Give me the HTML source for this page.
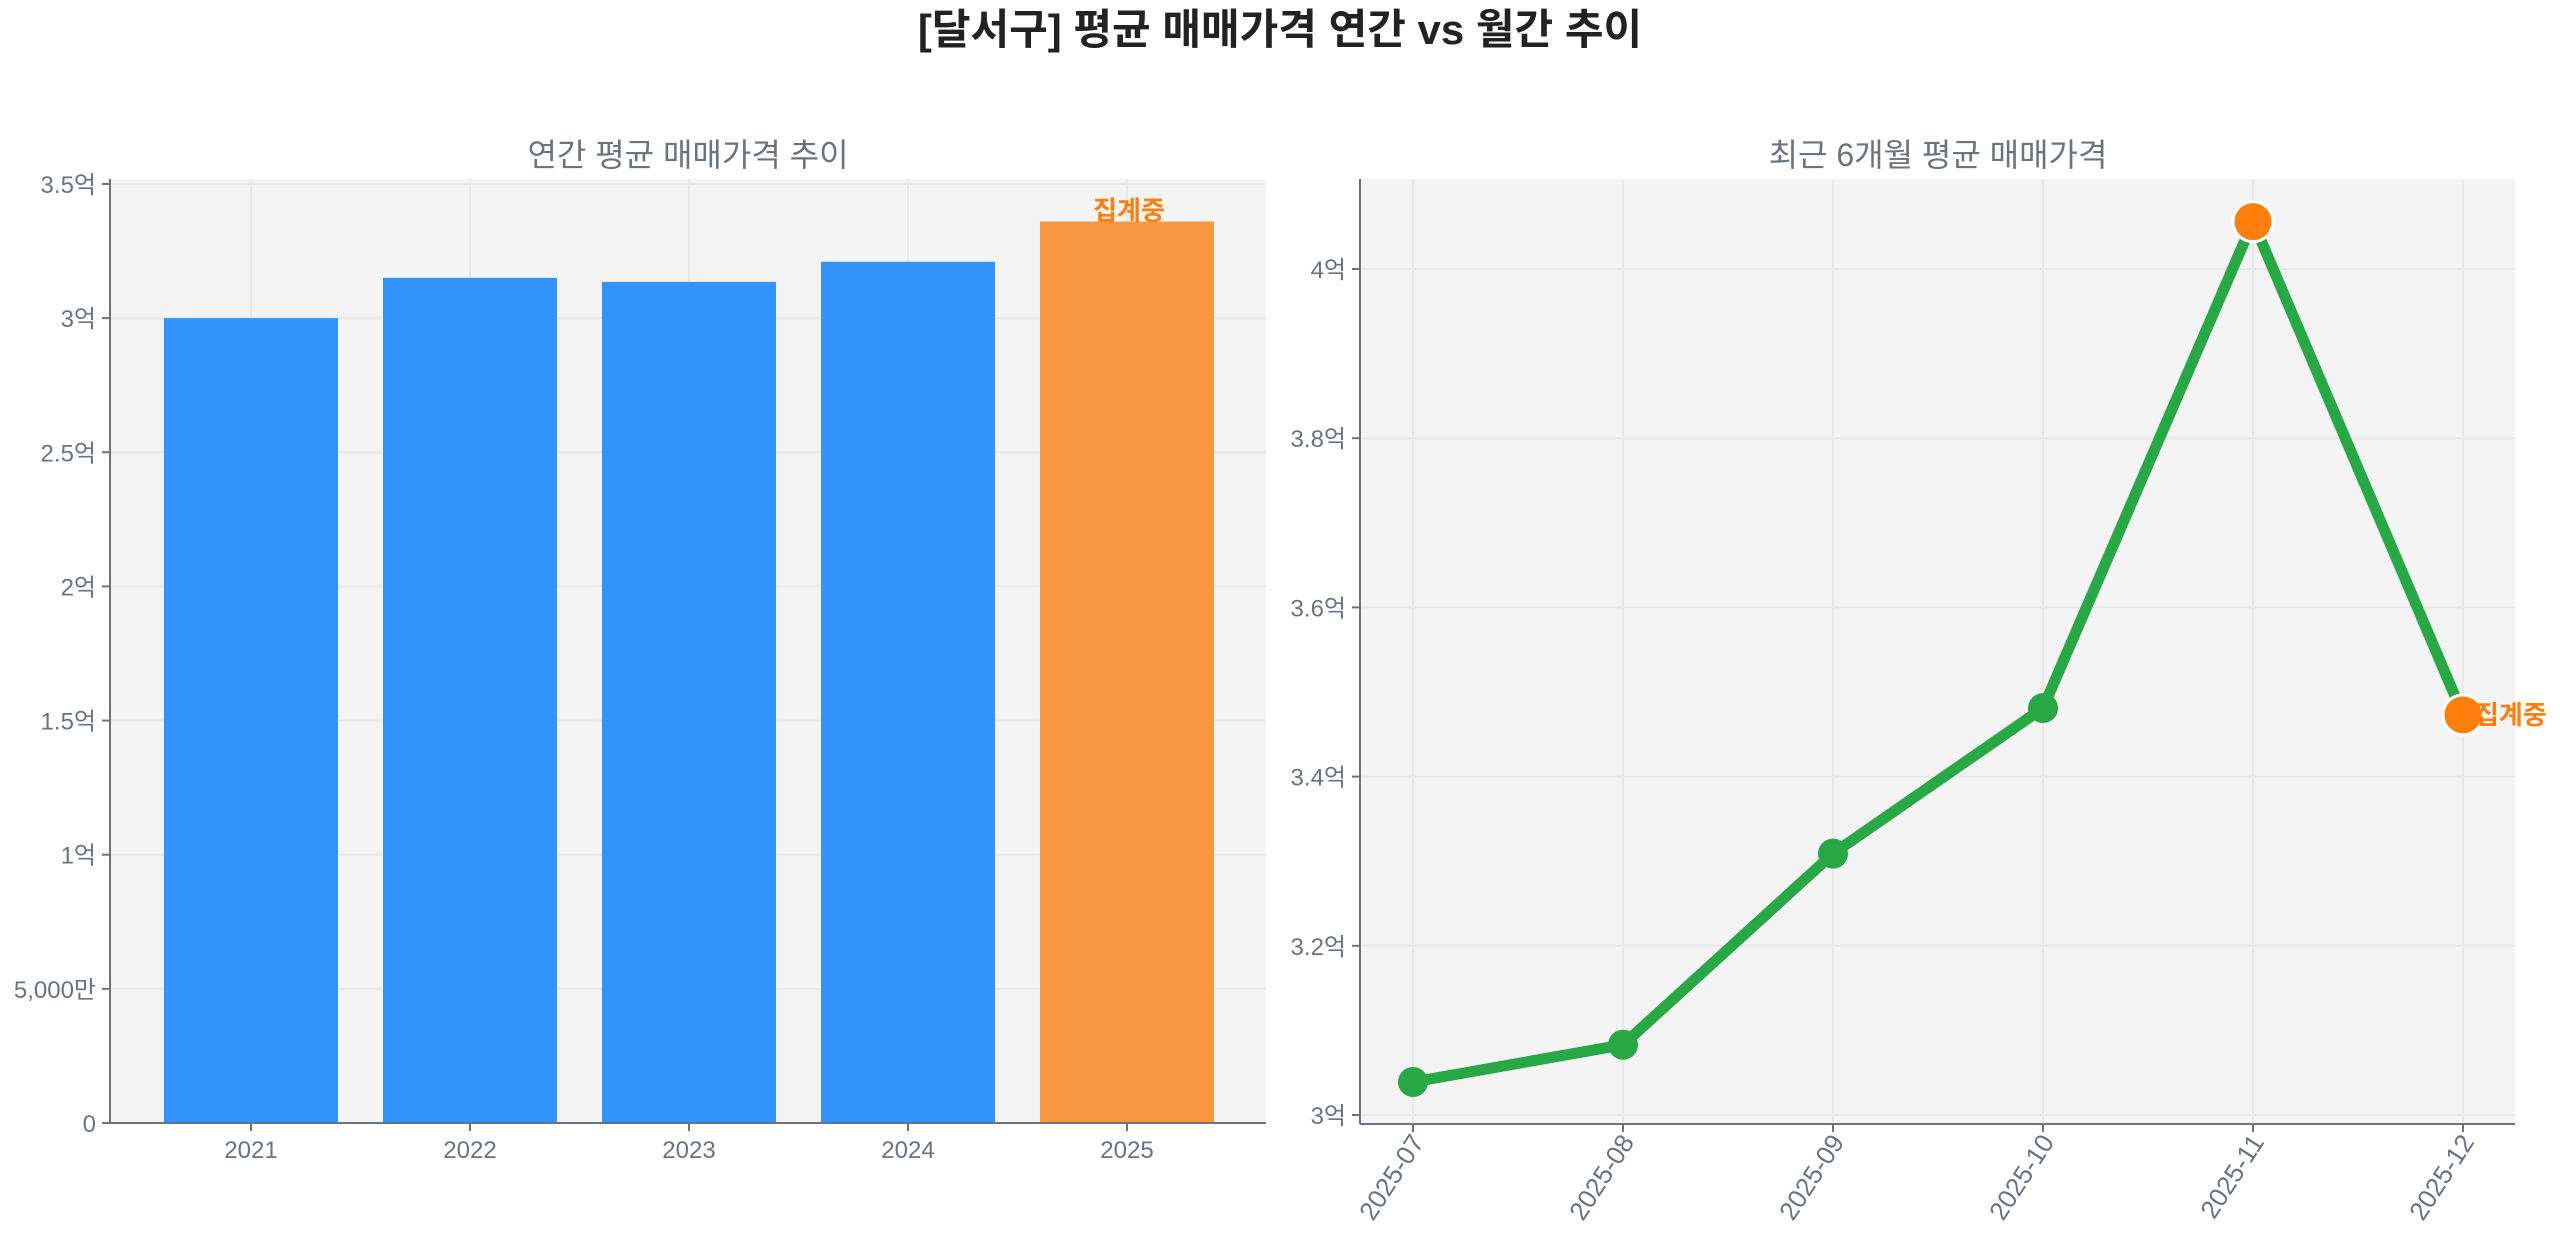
<!DOCTYPE html>
<html><head><meta charset="utf-8"><style>
html,body{margin:0;padding:0;background:#fff;}
svg{display:block;font-family:"Liberation Sans","Noto Sans CJK KR",sans-serif;}
</style></head><body>
<svg id="c" width="2560" height="1234" viewBox="0 0 2560 1234" xmlns="http://www.w3.org/2000/svg">
<text x="1280" y="44" text-anchor="middle" font-size="42" font-weight="bold" fill="#222">[달서구] 평균 매매가격 연간 vs 월간 추이</text>
<g id="left"></g>
<g id="right"></g>
</svg>
<script>
const years=['2021','2022','2023','2024','2025'];
const annualValues=[3.0,3.15,3.135,3.21,3.36];
const leftTicks=[0,0.5,1,1.5,2,2.5,3,3.5];
const leftTickLabels=['0','5,000만','1억','1.5억','2억','2.5억','3억','3.5억'];
const months=['2025-07','2025-08','2025-09','2025-10','2025-11','2025-12'];
const monthlyValues=[3.039,3.083,3.309,3.481,4.056,3.473];
const rightTicks=[3.0,3.2,3.4,3.6,3.8,4.0];
const rightTickLabels=['3억','3.2억','3.4억','3.6억','3.8억','4억'];
const NS='http://www.w3.org/2000/svg';
function mk(p,t,a,txt){const e=document.createElementNS(NS,t);for(const k in a)e.setAttribute(k,a[k]);if(txt!==undefined)e.textContent=txt;p.appendChild(e);return e;}
const gray='#6b7280';
const grid='#e8e8e8';
// LEFT
const L=document.getElementById('left');
const lx0=110,lx1=1266,ly0=179,ly1=1123;
const ly=v=>1123-v*268.3;
const lxc=i=>251+i*219;
let r=mk(L,'rect',{x:lx0,y:ly0,width:lx1-lx0,height:ly1-ly0,fill:'#f4f4f4'});

let t=mk(L,'text',{x:688,y:166,'text-anchor':'middle','font-size':32,fill:gray},'연간 평균 매매가격 추이');

leftTicks.forEach((v,i)=>{
 let g=mk(L,'line',{x1:lx0,x2:lx1,y1:ly(v),y2:ly(v),stroke:grid,'stroke-width':2});
 
 mk(L,'line',{x1:lx0-8,x2:lx0,y1:ly(v),y2:ly(v),stroke:gray,'stroke-width':2});
 let tl=mk(L,'text',{x:lx0-14,y:ly(v)+9,'text-anchor':'end','font-size':24,fill:gray},leftTickLabels[i]);
 
});
years.forEach((y,i)=>{
 let g=mk(L,'line',{x1:lxc(i),x2:lxc(i),y1:ly0,y2:ly1,stroke:grid,'stroke-width':2});
 
});
years.forEach((y,i)=>{
 const last=i===years.length-1;
 let b=mk(L,'rect',{x:lxc(i)-87,y:ly(annualValues[i]),width:174,height:ly(0)-ly(annualValues[i]),fill:last?'#f99640':'#3193fb'});
 
 mk(L,'line',{x1:lxc(i),x2:lxc(i),y1:ly1,y2:ly1+8,stroke:gray,'stroke-width':2});
 let xl=mk(L,'text',{x:lxc(i),y:1158,'text-anchor':'middle','font-size':24,fill:gray},y);
 
 if(last){let a=mk(L,'text',{x:lxc(i)+2,y:ly(annualValues[i])-2,'text-anchor':'middle','font-size':26,'font-weight':'bold',fill:'#ff7f0e'},'집계중');
 }
});
mk(L,'line',{x1:lx0,x2:lx0,y1:ly0,y2:ly1,stroke:gray,'stroke-width':2});
mk(L,'line',{x1:lx0,x2:lx1,y1:ly1,y2:ly1,stroke:gray,'stroke-width':2});
// RIGHT
const R=document.getElementById('right');
const rx0=1360,rx1=2515,ry0=179,ry1=1124;
const ry=v=>1115-(v-3.0)*846;
const rxc=i=>1413+i*210;
r=mk(R,'rect',{x:rx0,y:ry0,width:rx1-rx0,height:ry1-ry0,fill:'#f4f4f4'});

t=mk(R,'text',{x:1938,y:166,'text-anchor':'middle','font-size':32,fill:gray},'최근 6개월 평균 매매가격');

rightTicks.forEach((v,i)=>{
 let g=mk(R,'line',{x1:rx0,x2:rx1,y1:ry(v),y2:ry(v),stroke:grid,'stroke-width':2});
 
 mk(R,'line',{x1:rx0-8,x2:rx0,y1:ry(v),y2:ry(v),stroke:gray,'stroke-width':2});
 let tl=mk(R,'text',{x:rx0-14,y:ry(v)+9,'text-anchor':'end','font-size':24,fill:gray},rightTickLabels[i]);
 
});
months.forEach((m,i)=>{
 let g=mk(R,'line',{x1:rxc(i),x2:rxc(i),y1:ry0,y2:ry1,stroke:grid,'stroke-width':2});
 
 mk(R,'line',{x1:rxc(i),x2:rxc(i),y1:ry1,y2:ry1+8,stroke:gray,'stroke-width':2});
 let xl=mk(R,'text',{x:rxc(i)+12,y:1142,'text-anchor':'end','font-size':26,fill:gray,transform:`rotate(-57 ${rxc(i)+12} 1142)`},m);
 
});
let pts=monthlyValues.map((v,i)=>rxc(i)+','+ry(v)).join(' ');
let pl=mk(R,'polyline',{points:pts,fill:'none',stroke:'#28a745','stroke-width':11,'stroke-linejoin':'round'});

const maxV=Math.max(...monthlyValues);
monthlyValues.forEach((v,i)=>{
 const special=v===maxV||i===monthlyValues.length-1;
 let c=mk(R,'circle',{cx:rxc(i),cy:ry(v),r:special?20:15,fill:special?'#ff7f0e':'#28a745',stroke:special?'#fff':'none','stroke-width':3});
 
});
let a2=mk(R,'text',{x:rxc(5)+12,y:ry(monthlyValues[5])+9,'font-size':26,'font-weight':'bold',fill:'#ff7f0e'},'집계중');

mk(R,'line',{x1:rx0,x2:rx0,y1:ry0,y2:ry1,stroke:gray,'stroke-width':2});
mk(R,'line',{x1:rx0,x2:rx1,y1:ry1,y2:ry1,stroke:gray,'stroke-width':2});
</script>
</body></html>
